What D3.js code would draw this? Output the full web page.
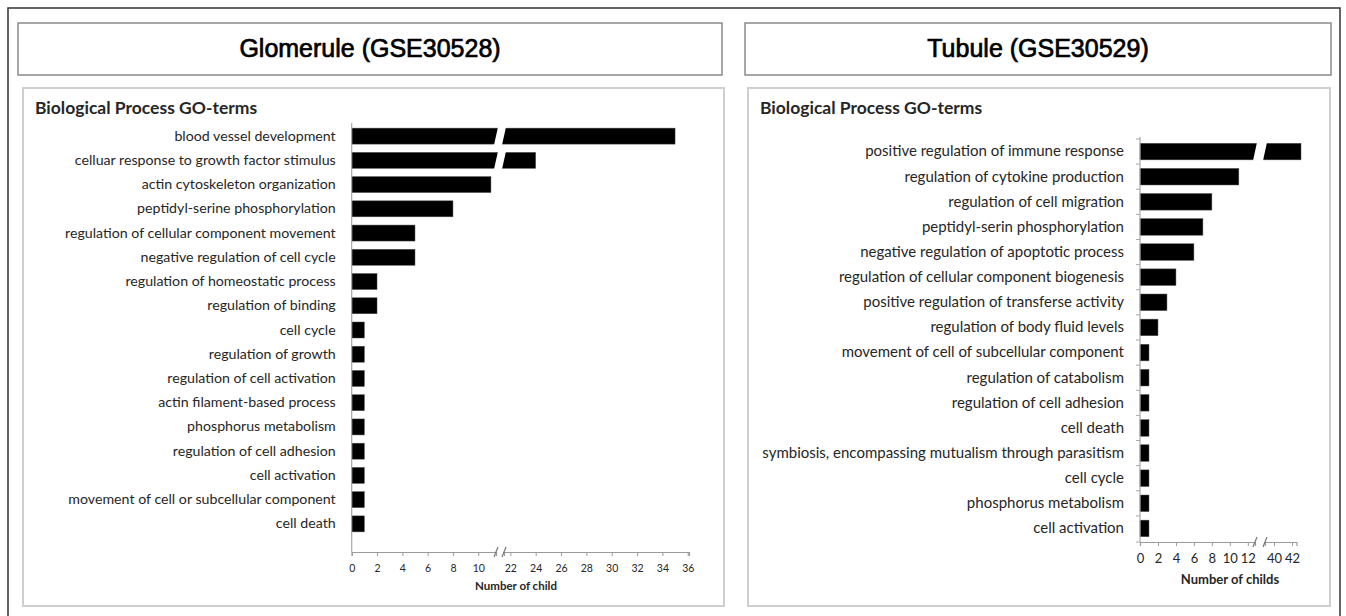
<!DOCTYPE html>
<html>
<head>
<meta charset="utf-8">
<script src="https://cdn.jsdelivr.net/npm/d3@7/dist/d3.min.js"></script>
<style>
  body { margin: 0; background: #fff; }
  svg { display: block; }
  .lbl { font-family: Lato, "Open Sans", sans-serif; fill: #262626; }
</style>
</head>
<body>
<svg id="chart" width="1346" height="616"></svg>
<script>
// ---- data ----
const gloTerms = [
  "blood vessel development",
  "celluar response to growth factor stimulus",
  "actin cytoskeleton organization",
  "peptidyl-serine phosphorylation",
  "regulation of cellular component movement",
  "negative regulation of cell cycle",
  "regulation of homeostatic process",
  "regulation of binding",
  "cell cycle",
  "regulation of growth",
  "regulation of cell activation",
  "actin filament-based process",
  "phosphorus metabolism",
  "regulation of cell adhesion",
  "cell activation ",
  "movement of cell or subcellular component",
  "cell death"
];
const gloCounts = [35, 24, 11, 8, 5, 5, 2, 2, 1, 1, 1, 1, 1, 1, 1, 1, 1];
const gloTicksLow = [0, 2, 4, 6, 8, 10];
const gloTicksHigh = [22, 24, 26, 28, 30, 32, 34, 36];

const tubTerms = [
  "positive regulation of immune response",
  "regulation of cytokine production",
  "regulation of cell migration",
  "peptidyl-serin phosphorylation",
  "negative regulation of apoptotic process",
  "regulation of cellular component biogenesis",
  "positive regulation of transferse activity",
  "regulation of body fluid levels",
  "movement of cell of subcellular component",
  "regulation of catabolism",
  "regulation of cell adhesion",
  "cell death",
  "symbiosis, encompassing mutualism through parasitism",
  "cell cycle",
  "phosphorus metabolism",
  "cell activation"
];
const tubCounts = [43, 11, 8, 7, 6, 4, 3, 2, 1, 1, 1, 1, 1, 1, 1, 1];
const tubTicksLow = [0, 2, 4, 6, 8, 10, 12];
const tubTicksHigh = [40, 42];

const svg = d3.select("#chart");

// outer frame
svg.append("rect").attr("x", 8).attr("y", 8).attr("width", 1332).attr("height", 620)
  .attr("fill", "none").attr("stroke", "#333").attr("stroke-width", 1.5);

function titleBox(x, w, text) {
  svg.append("rect").attr("x", x).attr("y", 23).attr("width", w).attr("height", 52)
    .attr("fill", "#fff").attr("stroke", "#8a8a8a").attr("stroke-width", 1.5);
  svg.append("text").attr("x", x + w / 2).attr("y", 57)
    .attr("text-anchor", "middle")
    .style("font-family", "'Liberation Sans', Arial, sans-serif")
    .style("font-size", "25px")
    .attr("fill", "#000").attr("stroke", "#000").attr("stroke-width", 0.7)
    .text(text);
}

// draws one panel with a broken x axis
function panel(cfg) {
  const g = svg.append("g");
  g.append("rect").attr("x", cfg.box[0]).attr("y", 88).attr("width", cfg.box[1]).attr("height", 518)
    .attr("fill", "#fff").attr("stroke", "#cfcfcf").attr("stroke-width", 2);
  g.append("text").attr("class", "lbl").attr("x", cfg.box[0] + 12).attr("y", 114)
    .style("font-size", "17.5px").style("font-weight", "bold").attr("fill", "#111")
    .text("Biological Process GO-terms");

  const xa = d3.scaleLinear().domain(cfg.lowDom).range(cfg.lowRange);
  const xb = d3.scaleLinear().domain(cfg.highDom).range(cfg.highRange);
  const x = v => v <= cfg.lowDom[1] ? xa(v) : xb(v);
  const y = d3.scaleBand().domain(cfg.terms).range(cfg.band).paddingInner(0.34).paddingOuter(0.17);
  const x0 = xa(0);
  const breakX = (cfg.lowRange[1] + cfg.highRange[0]) / 2;

  // bars
  const data = cfg.terms.map((t, i) => ({ term: t, n: cfg.counts[i] }));
  g.selectAll(".bar").data(data).enter().append("rect")
    .attr("class", "bar")
    .attr("x", x0)
    .attr("y", d => y(d.term))
    .attr("width", d => x(d.n) - x0)
    .attr("height", y.bandwidth())
    .attr("fill", "#000").attr("stroke", "#555").attr("stroke-width", 0.5);

  // white slanted gap across the broken bars
  g.selectAll(".gap").data(data.filter(d => d.n > cfg.lowDom[1])).enter().append("polygon")
    .attr("fill", "#fff")
    .attr("points", d => {
      const t = y(d.term) - 1, b = y(d.term) + y.bandwidth() + 1, hw = cfg.gapW / 2;
      return [[breakX - hw + 2, t], [breakX + hw + 2, t], [breakX + hw - 2, b], [breakX - hw - 2, b]]
        .map(p => p.join(",")).join(" ");
    });

  // y axis labels
  const ya = g.append("g").attr("transform", `translate(${x0},0)`)
    .call(d3.axisLeft(y).tickSize(0).tickPadding(16));
  ya.select(".domain").remove();
  ya.selectAll("text").attr("class", "lbl").style("font-size", cfg.labelFont).attr("fill", "#222");

  // vertical axis line
  g.append("line").attr("x1", x0).attr("x2", x0).attr("y1", cfg.vTop).attr("y2", cfg.axisY)
    .attr("stroke", "#a8a8a8").attr("stroke-width", 1.2);
  if (cfg.catTicks) {
    const bounds = cfg.terms.map(t => y(t) - y.step() * y.paddingInner() / 2);
    bounds.push(cfg.axisY);
    g.selectAll(".ct").data(bounds).enter().append("line")
      .attr("x1", x0 - 4).attr("x2", x0).attr("y1", d => d).attr("y2", d => d)
      .attr("stroke", "#a8a8a8");
  }

  // x axes (two pieces)
  [[xa, cfg.ticksLow], [xb, cfg.ticksHigh]].forEach(([s, tv]) => {
    const ax = g.append("g").attr("transform", `translate(0,${cfg.axisY})`)
      .call(d3.axisBottom(s).tickValues(tv).tickFormat(d3.format("d"))
        .tickSizeOuter(0).tickSize(4).tickPadding(cfg.tickPad));
    ax.select(".domain").attr("stroke", "#9a9a9a").attr("stroke-width", 1.2);
    ax.selectAll(".tick line").attr("stroke", "#9a9a9a");
    ax.selectAll("text").attr("class", "lbl").style("font-size", cfg.tickFont).attr("fill", "#404040");
  });
  // break slashes on the axis
  [cfg.lowRange[1], cfg.highRange[0]].forEach(bx => {
    g.append("line").attr("x1", bx - 2).attr("x2", bx + 2)
      .attr("y1", cfg.axisY + 5).attr("y2", cfg.axisY - 5)
      .attr("stroke", "#777").attr("stroke-width", 1.2);
  });

  g.append("text").attr("class", "lbl").attr("x", cfg.xTitle[0]).attr("y", cfg.xTitle[1])
    .attr("text-anchor", "middle").style("font-size", cfg.titleFont).style("font-weight", "bold")
    .attr("fill", "#222").text(cfg.xLabel);
}

titleBox(18, 704, "Glomerule (GSE30528)");
titleBox(745, 586, "Tubule (GSE30529)");

panel({
  box: [23, 701],
  terms: gloTerms, counts: gloCounts,
  lowDom: [0, 11.4], lowRange: [351.7, 496],
  highDom: [21.5, 36.1], highRange: [504, 689],
  ticksLow: gloTicksLow, ticksHigh: gloTicksHigh,
  band: [124, 536], vTop: 123, axisY: 552,
  gapW: 8, tickPad: 9, tickFont: "10.5px", titleFont: "11.5px", labelFont: "14.2px",
  xTitle: [516, 590], xLabel: "Number of child", catTicks: false
});

panel({
  box: [748, 582],
  terms: tubTerms, counts: tubCounts,
  lowDom: [0, 12.8], lowRange: [1140, 1255],
  highDom: [39, 42.5], highRange: [1265, 1296.5],
  ticksLow: tubTicksLow, ticksHigh: tubTicksHigh,
  band: [139, 541], vTop: 137, axisY: 542,
  gapW: 10, tickPad: 8, tickFont: "13px", titleFont: "13px", labelFont: "15px",
  xTitle: [1230, 584], xLabel: "Number of childs", catTicks: true
});
</script>
</body>
</html>
